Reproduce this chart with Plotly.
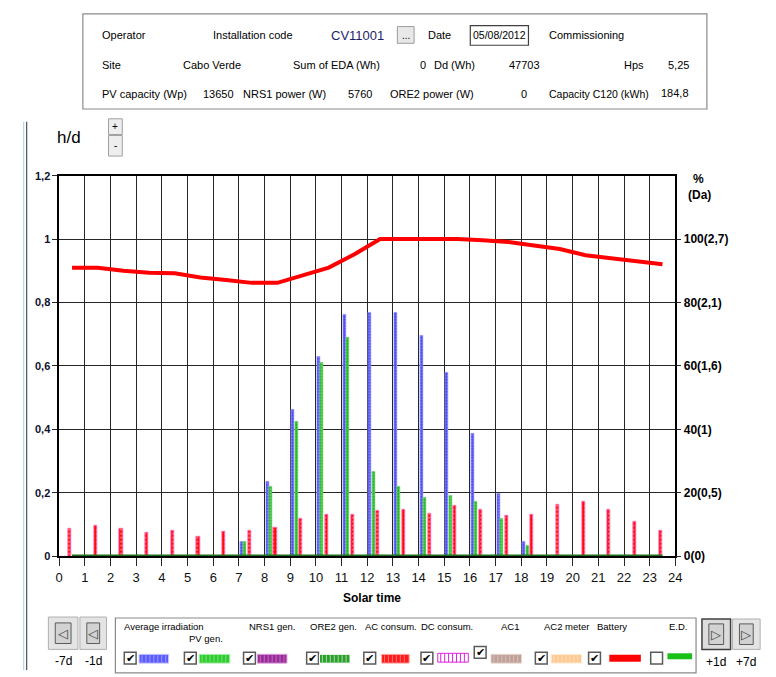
import plotly.graph_objects as go

# ---- data -------------------------------------------------------------
hours = list(range(24))
hour_labels = [str(h) for h in range(25)]

# daily profile in h/d, one value per solar hour
avg_irradiation = [0, 0, 0, 0, 0, 0, 0, 0.045, 0.235, 0.462, 0.629, 0.761,
                   0.768, 0.768, 0.697, 0.578, 0.387, 0.196, 0.045, 0, 0, 0, 0, 0]
pv_gen = [0, 0, 0, 0, 0, 0, 0, 0.045, 0.220, 0.423, 0.609, 0.689,
          0.268, 0.220, 0.185, 0.192, 0.172, 0.117, 0.033, 0, 0, 0, 0, 0]
ac_consum = [0.086, 0.096, 0.086, 0.073, 0.080, 0.062, 0.077, 0.080, 0.089, 0.117,
             0.132, 0.132, 0.144, 0.147, 0.135, 0.160, 0.147, 0.129, 0.132, 0.164,
             0.172, 0.147, 0.108, 0.080]

# battery state of charge (%), sampled at the middle of each hour
battery_soc = [91.0, 91.0, 90.0, 89.4, 89.2, 87.9, 87.1, 86.2, 86.2, 88.5, 91.0, 95.2,
               100, 100, 100, 100, 99.6, 99.1, 98.0, 96.9, 94.9, 93.9, 93.1, 92.1]
ed_level = [0] * 24

left_ticks = [0, 0.2, 0.4, 0.6, 0.8, 1.0, 1.2]
left_ticktext = ["0", "0,2", "0,4", "0,6", "0,8", "1", "1,2"]
right_ticks = [0, 20, 40, 60, 80, 100]
right_ticktext = ["0(0)", "20(0,5)", "40(1)", "60(1,6)", "80(2,1)", "100(2,7)"]

# ---- geometry helpers (pixel -> paper) --------------------------------
W, H = 776, 677


def px(x):
    return x / W


def py(y):
    return 1 - y / H


SANS = "Liberation Sans, Arial"
GRID = "#262626"

fig = go.Figure()

bar_w = 0.12
fig.add_bar(
    x=[h + 0.105 for h in hours], y=avg_irradiation, width=bar_w,
    name="Average irradiation",
    marker=dict(color="#4848f4", line=dict(color="#9a9aff", width=0.6),
                pattern=dict(shape=".", fgcolor="#ffffff", bgcolor="#4848f4",
                             size=3, solidity=0.25)),
)
fig.add_bar(
    x=[h + 0.24 for h in hours], y=pv_gen, width=bar_w,
    name="PV gen.",
    marker=dict(color="#18b418", line=dict(color="#6fd26f", width=0.6),
                pattern=dict(shape=".", fgcolor="#ffffff", bgcolor="#18b418",
                             size=3, solidity=0.3)),
)
fig.add_bar(
    x=[h + 0.415 for h in hours], y=ac_consum, width=bar_w,
    name="AC consum.",
    marker=dict(color="#ff0a0a", line=dict(color="#ff70c8", width=0.8),
                pattern=dict(shape=".", fgcolor="#ffffff", bgcolor="#ff0a0a",
                             size=4, solidity=0.2)),
)
fig.add_scatter(
    x=[h + 0.5 for h in hours], y=ed_level, mode="lines", name="E.D.",
    line=dict(color="#1d6e1d", width=3.5),
)
fig.add_scatter(
    x=[h + 0.5 for h in hours], y=battery_soc, mode="lines", name="Battery",
    yaxis="y2", line=dict(color="#ff0000", width=4, shape="linear"),
)

fig.update_layout(
    width=W, height=H,
    margin=dict(l=0, r=0, t=0, b=0),
    paper_bgcolor="white", plot_bgcolor="white",
    showlegend=False, barmode="overlay", bargap=0,
    font=dict(family=SANS, color="#000000", size=11),
    xaxis=dict(
        domain=[px(56), px(681)], range=[0, 24],
        tickvals=list(range(25)), ticktext=hour_labels,
        showgrid=True, gridcolor=GRID, gridwidth=1.3,
        ticks="outside", ticklen=8, tickcolor=GRID, tickwidth=1.3,
        showline=True, linecolor="#000000", linewidth=2, mirror=True,
        zeroline=False, tickfont=dict(family=SANS, size=13, color="#111111"),
        fixedrange=True,
    ),
    yaxis=dict(
        domain=[py(561), py(173)], range=[0, 1.2],
        tickvals=left_ticks, ticktext=left_ticktext,
        showgrid=True, gridcolor=GRID, gridwidth=1.3,
        ticks="outside", ticklen=5, tickcolor=GRID, tickwidth=1.3,
        showline=True, linecolor="#000000", linewidth=1.5, mirror=True,
        zeroline=False,
        tickfont=dict(family=SANS, size=11, color="#101030", weight="bold"),
        fixedrange=True,
    ),
    yaxis2=dict(
        overlaying="y", side="right", range=[0, 120],
        tickvals=right_ticks, ticktext=right_ticktext,
        showgrid=False, zeroline=False,
        ticks="outside", ticklen=5, tickcolor=GRID, tickwidth=1.3,
        tickfont=dict(family=SANS, size=12, color="#000000", weight="bold"),
        fixedrange=True,
    ),
)

shapes = []
annots = []


def text(x, y, s, size=11, color="#000000", anchor="left", bold=False,
         family=SANS, yanchor="middle"):
    annots.append(dict(
        x=px(x), y=py(y), xref="paper", yref="paper", text=s, showarrow=False,
        xanchor=anchor, yanchor=yanchor,
        font=dict(family=family, size=size, color=color,
                  weight="bold" if bold else "normal"),
    ))


def rect(x0, y0, x1, y1, line="#808080", fill=None, width=1):
    shapes.append(dict(
        type="rect", xref="paper", yref="paper",
        x0=px(x0), x1=px(x1), y0=py(y1), y1=py(y0),
        line=dict(color=line, width=width),
        fillcolor=fill if fill else "rgba(0,0,0,0)", layer="above",
    ))


def hline(x0, x1, y, color, width):
    shapes.append(dict(
        type="line", xref="paper", yref="paper",
        x0=px(x0), x1=px(x1), y0=py(y), y1=py(y),
        line=dict(color=color, width=width), layer="above",
    ))


def vline(x, y0, y1, color, width):
    shapes.append(dict(
        type="line", xref="paper", yref="paper",
        x0=px(x), x1=px(x), y0=py(y0), y1=py(y1),
        line=dict(color=color, width=width), layer="above",
    ))


# window frame on the left
vline(20, 118, 677, "#a8cdf0", 1)
vline(23, 118, 677, "#505050", 1.2)

# ---- header info panel -------------------------------------------------
rect(80, 8, 713, 105, line="#8a8a8a", width=1.2)
text(97, 30, "Operator")
text(210, 30, "Installation code")
text(330, 30, "CV11001", size=13, color="#1e1e6a")
rect(399, 21, 416, 38, line="#9a9a9a", fill="#e8e8e8")
text(407.5, 30, "...", size=10, anchor="center")
text(428, 30, "Date")
rect(473, 20, 532, 40, line="#404040", fill="#ffffff", width=1.2)
text(502.5, 30, "05/08/2012", size=10.5, anchor="center")
text(551, 30, "Commissioning")

text(97, 60, "Site")
text(180, 60, "Cabo Verde")
text(291, 60, "Sum of EDA (Wh)")
text(430, 60, "0", anchor="right")
text(434, 60, "Dd (Wh)")
text(546, 60, "47703", anchor="right")
text(651, 60, "Hps", anchor="right")
text(672, 60, "5,25")

text(97, 90, "PV capacity (Wp)")
text(235, 90, "13650", anchor="right")
text(240, 90, "NRS1 power (W)")
text(375, 90, "5760", anchor="right")
text(390, 90, "ORE2 power (W)")
text(533, 90, "0", anchor="right")
text(551, 90, "Capacity C120 (kWh)", size=10.5)
text(697, 89, "184,8", anchor="right")

# ---- zoom controls and axis titles --------------------------------------
text(52, 134, "h/d", size=17)
rect(106, 115, 120, 131, line="#a0a0a0", fill="#eeeeee")
rect(106, 132, 120, 153, line="#a0a0a0", fill="#eeeeee")
text(113, 123, "+", size=10, anchor="center")
text(113, 142, "-", size=10, anchor="center")
text(697, 176, "%", size=12, bold=True)
text(692, 193, "(Da)", size=12, bold=True)
text(373, 604, "Solar time", size=12, bold=True, anchor="center")

# ---- navigation buttons ---------------------------------------------------
for x0, x1, lab in [(45, 75, "-7d"), (77, 104, "-1d")]:
    rect(x0, 623, x1, 656, line="#b0b0b0", fill="#e4e4e4")
    rect(x0 + 7, 629, x1 - 7, 650, line="#5a5a5a", fill="#d2d2d2")
    text((x0 + x1) / 2, 640, "◁", size=13, anchor="center", color="#444444",
         family="DejaVu Sans")
    text((x0 + x1) / 2, 668, lab, size=12, anchor="center")
for x0, x1, lab, pressed in [(708, 737, "+1d", True), (739, 767, "+7d", False)]:
    rect(x0, 625, x1, 656, line="#404040" if pressed else "#b0b0b0",
         fill="#dcdcdc" if pressed else "#e4e4e4", width=1.5 if pressed else 1)
    rect(x0 + 7, 630, x1 - 7, 651, line="#5a5a5a", fill="#d2d2d2")
    text((x0 + x1) / 2, 641, "▷", size=13, anchor="center", color="#444444",
         family="DejaVu Sans")
    text((x0 + x1) / 2, 669, lab, size=12, anchor="center")

# ---- legend panel ------------------------------------------------------------
rect(113, 624, 702, 680, line="#8a8a8a", width=1.2)

legend_labels = [
    (120, 633, "Average irradiation"),
    (186, 645, "PV gen."),
    (247, 633, "NRS1 gen."),
    (308, 633, "ORE2 gen."),
    (364, 633, "AC consum."),
    (421, 633, "DC consum."),
    (502, 633, "AC1"),
    (546, 633, "AC2 meter"),
    (599, 633, "Battery"),
    (673, 633, "E.D."),
]
for x, y, s in legend_labels:
    text(x, y, s, size=9.5)

checkboxes = [(122, 665, True), (183, 665, True), (243, 665, True),
              (307, 665, True), (365, 665, True), (423, 665, True),
              (477, 659, True), (539, 665, True), (593, 665, True),
              (656, 665, False)]
for x, y, checked in checkboxes:
    rect(x, y - 6, x + 12, y + 6, line="#5a5a5a", fill="#ffffff", width=1.5)
    if checked:
        text(x + 6, y, "✔", size=11, anchor="center", family="DejaVu Sans")

swatches = [(137, 167, "#5a5aff", "#c8c8ff"), (198, 229, "#2ccc2c", "#b8f0b8"),
            (257, 287, "#9a2a9a", "#d8a0d8"), (320, 351, "#2aa02a", "#ffffff"),
            (383, 411, "#ff1a1a", "#ffb0b0"), (494, 525, "#c0a098", "#e8d8d0"),
            (555, 586, "#ffc890", "#fff0e0")]
for x0, x1, c, c2 in swatches:
    rect(x0, 661, x1, 670, line=c2, fill=c, width=1)
    for xx in range(int(x0) + 3, int(x1) - 1, 4):
        vline(xx, 662, 669, c2, 0.6)
# DC consum. swatch: magenta vertical stripes
rect(440, 660, 471, 669, line="#e020e0", fill="#ffffff", width=1)
for xx in range(443, 470, 4):
    vline(xx, 660, 669, "#e020e0", 1)
# battery and E.D. line swatches
hline(614, 646, 665, "#ff0000", 7)
hline(673, 698, 663, "#19c019", 6)

fig.update_layout(shapes=shapes, annotations=annots)

fig.write_html("out.html")
